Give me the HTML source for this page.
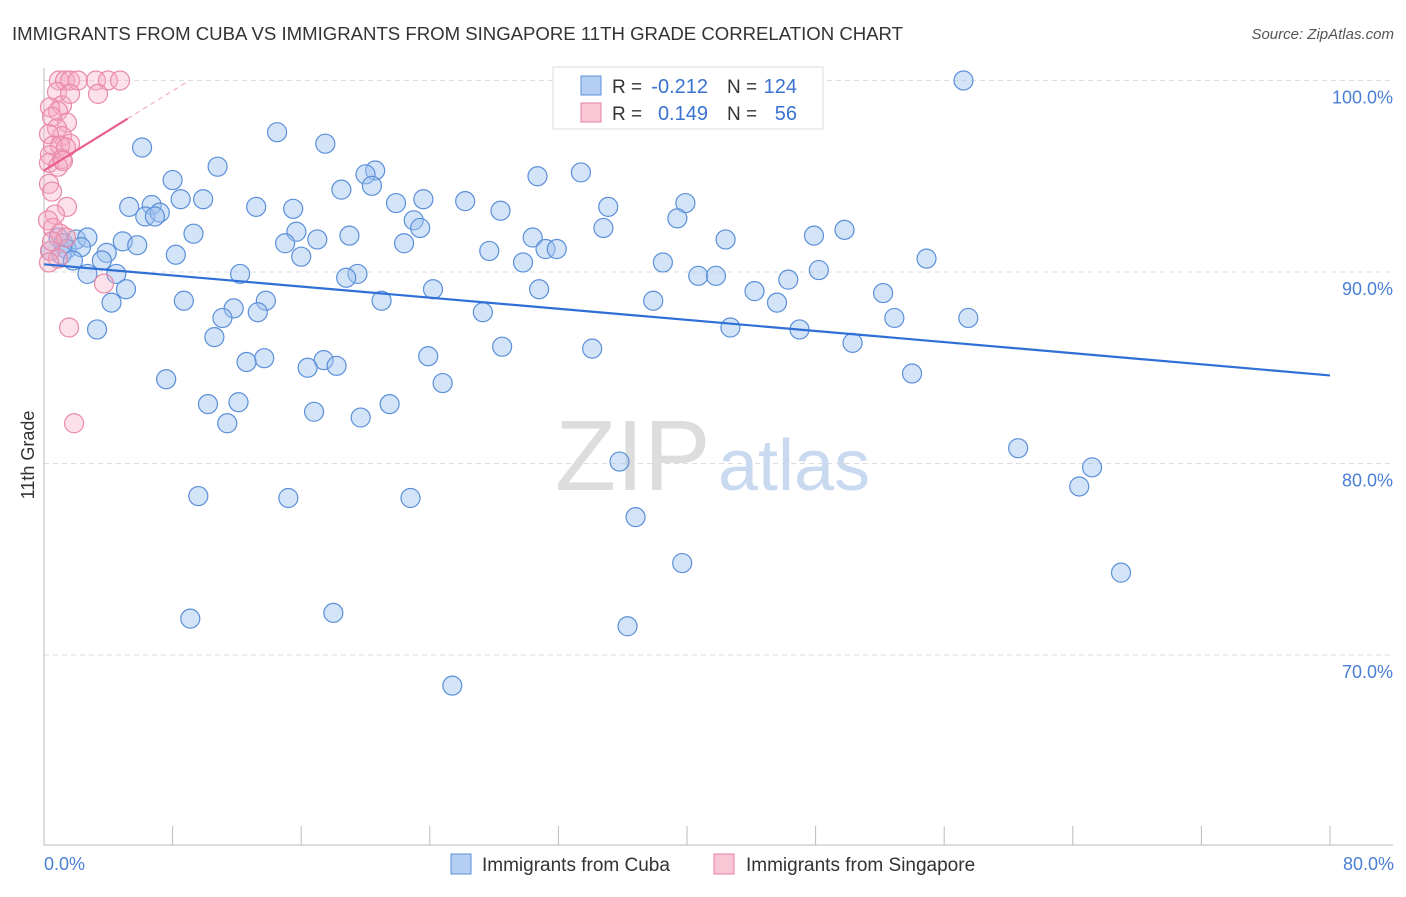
<!DOCTYPE html>
<html><head><meta charset="utf-8"><style>
body{margin:0;background:#fff;font-family:"Liberation Sans",sans-serif;}
svg text{font-family:"Liberation Sans",sans-serif;}
</style></head><body>
<svg width="1406" height="892" xmlns="http://www.w3.org/2000/svg" id="chart">
<text x="12" y="40" font-size="18.6" fill="#333" textLength="891">IMMIGRANTS FROM CUBA VS IMMIGRANTS FROM SINGAPORE 11TH GRADE CORRELATION CHART</text>
<text x="1394" y="39" font-size="15" fill="#555" text-anchor="end" font-style="italic">Source: ZipAtlas.com</text>
<g id="grid"></g>
<g id="watermark">
<text x="555" y="490" font-size="100" fill="#ddd" font-family="Liberation Serif">ZIP</text>
<text x="718" y="490" font-size="72" fill="#c9d9ef">atlas</text>
</g>
<g id="axes"></g>
<g id="pts"></g>
<g id="trend"></g>
<text transform="translate(34,455) rotate(-90)" font-size="18" fill="#333" text-anchor="middle">11th Grade</text>
<text x="44" y="870" font-size="18" fill="#4a7fd6">0.0%</text>
<text x="1394" y="870" font-size="18" fill="#4a7fd6" text-anchor="end">80.0%</text>
<g>
<rect x="553" y="67" width="270" height="62" fill="#fff" stroke="#ddd"/>
<rect x="581" y="76" width="20" height="19" fill="#b5cff3" stroke="#5b8fd9"/>
<rect x="581" y="103" width="20" height="19" fill="#f8c6d5" stroke="#e87fa0"/>
<text x="612" y="93" font-size="19" fill="#333">R =</text>
<text x="708" y="93" font-size="20" fill="#3a72d0" text-anchor="end">-0.212</text>
<text x="727" y="93" font-size="19" fill="#333">N =</text>
<text x="797" y="93" font-size="20" fill="#3a72d0" text-anchor="end">124</text>
<text x="612" y="120" font-size="19" fill="#333">R =</text>
<text x="708" y="120" font-size="20" fill="#3a72d0" text-anchor="end">0.149</text>
<text x="727" y="120" font-size="19" fill="#333">N =</text>
<text x="797" y="120" font-size="20" fill="#3a72d0" text-anchor="end">56</text>
</g>
<g>
<rect x="451" y="854" width="20" height="20" fill="#b5cff3" stroke="#5b8fd9"/>
<text x="482" y="871" font-size="19" fill="#333">Immigrants from Cuba</text>
<rect x="714" y="854" width="20" height="20" fill="#f8c6d5" stroke="#e87fa0"/>
<text x="746" y="871" font-size="19" fill="#333">Immigrants from Singapore</text>
</g>
</svg>
<script>
const yTicks=[100,90,80,70];
const yTickLabels=["100.0%","90.0%","80.0%","70.0%"];
const xTicks=[0,8,16,24,32,40,48,56,64,72,80];
const cubaX=[57.2,14.5,6.1,17.5,10.8,20.6,20.0,20.4,33.4,30.7,8.0,18.5,9.9,8.5,23.6,21.9,26.2,39.9,5.3,6.7,13.2,15.5,35.1,28.4,6.3,7.2,6.9,39.4,23.0,23.4,34.8,49.8,15.7,9.3,47.9,19.0,30.4,17.0,42.4,4.9,0.9,1.2,2.0,2.7,1.4,2.3,0.4,1.1,1.8,5.8,22.4,15.0,31.2,31.9,27.7,3.9,8.2,16.0,54.9,29.8,38.5,3.6,48.2,2.7,4.5,12.2,19.5,18.8,40.7,41.8,46.3,5.1,30.8,24.2,44.2,52.2,8.7,13.8,21.0,37.9,4.2,45.6,11.8,13.3,27.3,11.1,52.9,57.5,3.3,42.7,47.0,10.6,50.3,28.5,34.1,23.9,13.7,12.6,17.4,18.2,16.4,54.0,7.6,24.8,10.2,12.1,21.5,16.8,19.7,11.4,60.6,35.8,65.2,64.4,9.6,15.2,22.8,36.8,39.7,67.0,9.1,18.0,36.3,25.4];
const cubaY=[100.0,97.3,96.5,96.7,95.5,95.3,95.1,94.5,95.2,95.0,94.8,94.3,93.8,93.8,93.8,93.6,93.7,93.6,93.4,93.5,93.4,93.3,93.4,93.2,92.9,93.1,92.9,92.8,92.7,92.3,92.3,92.2,92.1,92.0,91.9,91.9,91.8,91.7,91.7,91.6,91.8,91.5,91.7,91.8,91.2,91.3,91.1,90.9,90.6,91.4,91.5,91.5,91.2,91.2,91.1,91.0,90.9,90.8,90.7,90.5,90.5,90.6,90.1,89.9,89.9,89.9,89.9,89.7,89.8,89.8,89.6,89.1,89.1,89.1,89.0,88.9,88.5,88.5,88.5,88.5,88.4,88.4,88.1,87.9,87.9,87.6,87.6,87.6,87.0,87.1,87.0,86.6,86.3,86.1,86.0,85.6,85.5,85.3,85.4,85.1,85.0,84.7,84.4,84.2,83.1,83.2,83.1,82.7,82.4,82.1,80.8,80.1,79.8,78.8,78.3,78.2,78.2,77.2,74.8,74.3,71.9,72.2,71.5,68.4];
const sgX=[0.93,1.31,1.62,2.11,3.23,3.98,4.73,3.36,0.81,1.12,0.37,0.87,1.43,0.5,0.81,1.12,0.31,1.62,0.56,1.0,1.37,0.37,1.12,0.31,0.87,1.18,0.31,0.5,1.43,0.68,0.25,0.56,1.0,1.37,0.37,0.87,0.31,3.73,1.56,1.87,0.5,1.62];
const sgY=[100,100,100,100,100,100,100,99.3,99.4,98.7,98.6,98.4,97.8,98.1,97.5,97.1,97.2,96.7,96.6,96.6,96.5,96.1,95.9,95.7,95.5,95.8,94.6,94.2,93.4,93.0,92.7,92.3,92.0,91.8,91.1,90.7,90.5,89.4,87.1,82.1,91.6,99.3];
const cubaTrend=[90.4,84.6];
const sgTrend=[95.3,0.52];
const NS="http://www.w3.org/2000/svg";
function sx(v){return 44+v/80*1286;}
function sy(v){return 80.5+(100-v)*19.15;}
function mk(tag,attrs,parent){const e=document.createElementNS(NS,tag);for(const k in attrs)e.setAttribute(k,attrs[k]);parent.appendChild(e);return e;}
const grid=document.getElementById('grid'),axes=document.getElementById('axes'),pts=document.getElementById('pts'),trend=document.getElementById('trend');
yTicks.forEach((t,i)=>{
 const l=mk('line',{x1:44,x2:1393,y1:sy(t),y2:sy(t),stroke:'#ddd','stroke-dasharray':'5,4'},grid);
 
 
 const tx=mk('text',{x:1393,y:sy(t)+23,'font-size':18,fill:'#4a7fd6','text-anchor':'end'},grid);
 tx.textContent=yTickLabels[i];
 
 
});
const xa=mk('line',{x1:44,x2:1393,y1:845,y2:845,stroke:'#bbb'},axes);


const ya=mk('line',{x1:44,x2:44,y1:68,y2:845,stroke:'#bbb'},axes);


xTicks.forEach(t=>{
 const l=mk('line',{x1:sx(t),x2:sx(t),y1:826,y2:845,stroke:'#bbb'},axes);
 
 
});
cubaX.forEach((x,i)=>{
 const c=mk('circle',{cx:sx(x),cy:sy(cubaY[i]),r:9.5,fill:'rgba(160,195,240,0.45)',stroke:'#5b8fd9','stroke-width':1.2},pts);
 
 
});
sgX.forEach((x,i)=>{
 const c=mk('circle',{cx:sx(x),cy:sy(sgY[i]),r:9.5,fill:'rgba(245,170,195,0.35)',stroke:'#e98aa8','stroke-width':1.2},pts);
 
 
});
const bl=mk('line',{x1:sx(0),y1:sy(cubaTrend[0]),x2:sx(80),y2:sy(cubaTrend[1]),stroke:'#2f6fd6','stroke-width':2.2},trend);


const pl=mk('line',{x1:sx(0),y1:sy(sgTrend[0]),x2:sx(5.2),y2:sy(sgTrend[0]+sgTrend[1]*5.2),stroke:'#e8608a','stroke-width':2.2},trend);


const pd=mk('line',{x1:sx(5.2),y1:sy(sgTrend[0]+sgTrend[1]*5.2),x2:sx(9),y2:sy(sgTrend[0]+sgTrend[1]*9),stroke:'#f0a0b8','stroke-width':1,'stroke-dasharray':'5,4'},trend);


</script>
</body></html>
